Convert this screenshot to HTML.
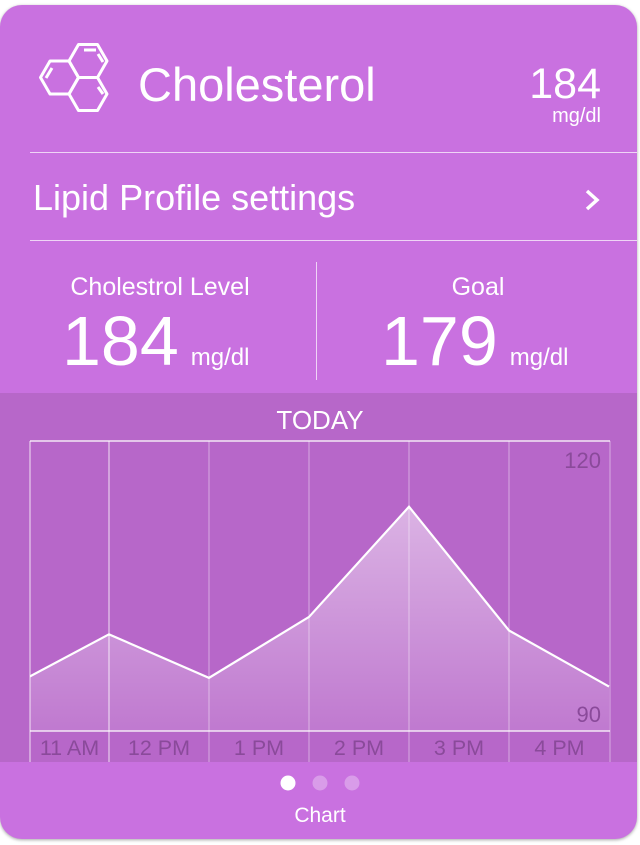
<!DOCTYPE html>
<html><head><meta charset="utf-8"><style>
body{margin:0;width:640px;height:845px;background:#fff;font-family:"Liberation Sans",sans-serif;overflow:hidden;position:relative}
.card{position:absolute;left:0;top:5px;width:637px;height:834px;background:#c971e0;border-radius:22px;box-shadow:0 1px 3px rgba(0,0,0,.35);overflow:hidden}
.t{position:absolute;color:#fff;white-space:nowrap}
.line{position:absolute;height:1px;background:rgba(255,255,255,.7)}
</style></head><body>
<div class="card">
<svg style="position:absolute;left:0;top:-5px" width="140" height="130">
<g fill="none" stroke="#fff" stroke-width="3" stroke-linejoin="round">
<polygon points="69,61 78.5,44.5 97.5,44.5 107,61 97.5,77.5 78.5,77.5"/>
<polygon points="40.5,77.5 50,61 69,61 78.5,77.5 69,94 50,94"/>
<polygon points="69,94 78.5,77.5 97.5,77.5 107,94 97.5,110.5 78.5,110.5"/>
<line x1="84" y1="50" x2="96" y2="50"/><line x1="98" y1="54" x2="103" y2="62"/>
<line x1="46" y1="78" x2="52" y2="68"/><line x1="98" y1="87" x2="103" y2="94"/>
</g></svg>
<div class="t" style="left:138px;top:52px;font-size:47px">Cholesterol</div>
<div class="t" style="right:36px;top:55px;font-size:43px">184</div>
<div class="t" style="right:36px;top:100px;font-size:20px">mg/dl</div>
<div class="line" style="left:30px;top:147px;width:610px"></div>
<div class="t" style="left:33px;top:172px;font-size:36px;width:580px;height:44px">Lipid Profile settings<svg style="position:absolute;left:550px;top:11px" width="20" height="24"><polyline points="4,3 14,12 4,21" fill="none" stroke="#fff" stroke-width="3.5"/></svg></div>
<div class="line" style="left:30px;top:235px;width:610px"></div>
<div class="t" style="left:0;width:320px;text-align:center;top:268px;font-size:25px">Cholestrol Level</div>
<div class="t" style="left:62px;top:296px;font-size:70px">184<span style="font-size:24px;margin-left:12px">mg/dl</span></div>
<div style="position:absolute;left:316px;top:257px;width:1px;height:118px;background:rgba(255,255,255,.7)"></div>
<div class="t" style="left:318px;width:320px;text-align:center;top:268px;font-size:25px">Goal</div>
<div class="t" style="left:381px;top:296px;font-size:70px">179<span style="font-size:24px;margin-left:12px">mg/dl</span></div>
<div class="t" style="left:0;width:640px;text-align:center;top:400px;font-size:26px;z-index:2">TODAY</div>
<svg id="chart" style="position:absolute;left:0;top:-5px" width="640" height="845"></svg>
<svg style="position:absolute;left:0;top:-5px" width="640" height="845">
<circle cx="288" cy="783" r="7.5" fill="#fff"/><circle cx="320" cy="783" r="7.5" fill="rgba(255,255,255,.3)"/><circle cx="352" cy="783" r="7.5" fill="rgba(255,255,255,.3)"/></svg>
<div class="t" style="left:0;width:640px;text-align:center;top:799px;font-size:21px">Chart</div>
</div>
<script>
const categories=["11 AM","12 PM","1 PM","2 PM","3 PM","4 PM",""];
const values=[94.5,100,95.5,101.8,113.2,100.4,94.6];
const yTicks=[120,90];
const NS="http://www.w3.org/2000/svg";
const svg=document.getElementById('chart');
const L=30,R=610,T=441,B=731,yMin=90,yMax=120;
const x=i=>9+100*i;
const y=v=>B-(v-yMin)/(yMax-yMin)*(B-T);
const cl=v=>Math.max(L,Math.min(R,v));
function mk(t,a){const e=document.createElementNS(NS,t);for(const k in a)e.setAttribute(k,a[k]);svg.appendChild(e);return e;}
svg.innerHTML='<defs><linearGradient id="g" x1="0" y1="0" x2="0" y2="1"><stop offset="0" stop-color="#fff" stop-opacity=".5"/><stop offset="1" stop-color="#fff" stop-opacity=".12"/></linearGradient><clipPath id="c"><rect x="30" y="441" width="580" height="290"/></clipPath></defs>';
const bg=mk('rect',{x:0,y:393,width:640,height:369,fill:'#b767c9'});

let d='';values.forEach((v,i)=>{d+=(i?'L':'M')+x(i)+','+y(v);});
const area=mk('path',{d:d+`L${x(values.length-1)},${B}L${x(0)},${B}Z`,fill:'url(#g)','clip-path':'url(#c)'});

const grid=[L];for(let i=1;i<categories.length;i++)grid.push(cl(x(i)));grid[grid.length-1]=R;
grid.forEach((gx,i)=>{const l=mk('line',{x1:gx,y1:T,x2:gx,y2:762,stroke:'rgba(255,255,255,'+(i<2?.8:.45)+')','stroke-width':1});
});
[T,B].forEach(gy=>{const l=mk('line',{x1:L,y1:gy,x2:R,y2:gy,stroke:'#fff','stroke-width':1.2});
});
const ln=mk('path',{d:d,fill:'none',stroke:'#fff','stroke-width':2.2,'clip-path':'url(#c)'});

categories.forEach((c,i)=>{if(!c)return;const cx=(grid[i]+grid[i+1])/2;
const t=mk('text',{x:cx,y:755,'text-anchor':'middle','font-size':21.5,fill:'#8a4a9a'});t.textContent=c;
});
yTicks.forEach(v=>{const t=mk('text',{x:601,y:y(v)+(v==yMax?27:-9),'text-anchor':'end','font-size':22,fill:'#8a4a9a'});t.textContent=v;
});
</script>
</body></html>
